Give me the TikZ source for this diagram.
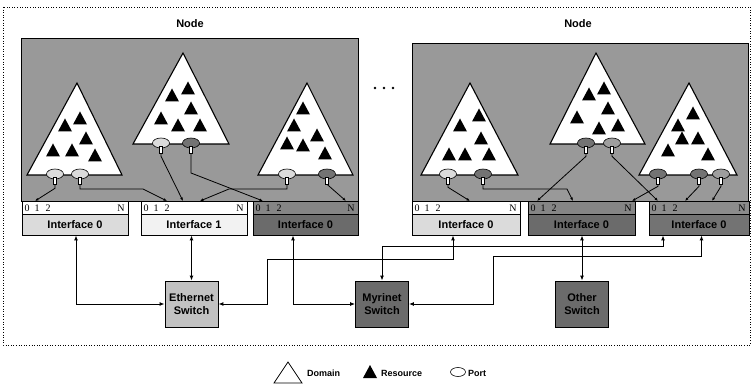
\documentclass[tikz,border=0pt]{standalone}
\usepackage{fontspec}
\setmainfont{Liberation Sans}
\newfontfamily\numfont{Liberation Serif}
\usetikzlibrary{shapes.geometric,arrows.meta}
\definecolor{nodegray}{gray}{0.60}
\definecolor{plightc}{gray}{0.86}
\definecolor{pdarkc}{gray}{0.45}
\definecolor{pmidc}{gray}{0.62}
\definecolor{ethc}{gray}{0.76}
\definecolor{swdark}{gray}{0.42}
\newcommand\rsrc[2]{\fill (#1,#2) ++(0,-6.5) -- ++(7,13) -- ++(-14,0) -- cycle;}
\newcommand\portpin[1]{\draw[line width=0.5pt,fill=white] ([xshift=-1.6pt,yshift=2pt]#1.south) rectangle ([xshift=1.6pt,yshift=-5pt]#1.south);}
\newcommand\ifacebox[6]{%
  \filldraw[line width=0.8pt,fill=#4] (#2,201) rectangle (#3,214);
  \node[num] at ({#2+5},208) {0};
  \node[num] at ({#2+15},208) {1};
  \node[num] at ({#2+26},208) {2};
  \node[num] at ({#3-7},208) {N};
  \node[draw,line width=0.8pt,fill=#5,minimum width={(#3-#2)*1pt},minimum height=21pt,inner sep=0pt,lbl] (#1) at ({(#2+#3)/2},224.5) {#6};
}
\begin{document}
\begin{tikzpicture}[x=1pt,y=-1pt,
  nodebox/.style={draw=black,line width=0.9pt,fill=nodegray},
  domtri/.style={draw=black,line width=1.1pt,fill=white,line join=miter},
  port/.style={ellipse,draw=black,line width=0.6pt,minimum width=17pt,minimum height=10pt,inner sep=0pt},
  plight/.style={port,fill=plightc},
  pdark/.style={port,fill=pdarkc},
  pmid/.style={port,fill=pmidc},
  wire/.style={line width=0.8pt,-{Latex[length=3.5pt,width=2.8pt]}},
  link/.style={line width=1pt,{Latex[length=5pt,width=4pt]}-{Latex[length=5pt,width=4pt]}},
  switch/.style={draw=black,line width=0.8pt,minimum width=53pt,minimum height=46pt,inner sep=0pt,align=center,font=\bfseries\fontsize{11}{13.5}\selectfont},
  lbl/.style={font=\bfseries\fontsize{11}{12}\selectfont},
  num/.style={font=\numfont\fontsize{10}{10}\selectfont,inner sep=0pt},
  legtext/.style={anchor=west,inner sep=0pt,font=\bfseries\fontsize{9}{9}\selectfont},
]
\useasboundingbox (0,0) rectangle (752,387);
\draw[dotted,line width=0.6pt] (3,7) rectangle (750,345);

% node titles
\node[lbl] (titleL) at (190,24) {Node};
\node[lbl] (titleR) at (578,24) {Node};

% node boxes
\draw[nodebox] (21,38) rectangle (358,201);
\draw[nodebox] (412,43) rectangle (748,201);

% ellipsis between nodes
\fill (375,88) circle[radius=1.4pt];
\fill (384,88) circle[radius=1.4pt];
\fill (393,88) circle[radius=1.4pt];

% interfaces
\ifacebox{ifA}{22}{128}{white}{black!14}{Interface 0}
\ifacebox{ifB}{141}{247}{white}{black!5}{Interface 1}
\ifacebox{ifC}{253}{358}{black!48}{black!58}{Interface 0}
\ifacebox{ifD}{412}{520}{white}{black!14}{Interface 0}
\ifacebox{ifE}{528}{635}{black!48}{black!58}{Interface 0}
\ifacebox{ifF}{649}{749}{black!45}{black!55}{Interface 0}

% domains
\draw[domtri] (77,83) -- (122,175) -- (27,175) -- cycle;
\draw[domtri] (183,53) -- (229,144) -- (133,144) -- cycle;
\draw[domtri] (307,83) -- (353,175) -- (258,175) -- cycle;
\draw[domtri] (470,83) -- (518,175) -- (421,175) -- cycle;
\draw[domtri] (596,53) -- (645,144) -- (550,144) -- cycle;
\draw[domtri] (689,83) -- (737,175) -- (639,175) -- cycle;

% resources
\rsrc{65}{125}\rsrc{80}{118}\rsrc{86}{138}\rsrc{53}{150}\rsrc{72}{150}\rsrc{95}{155}
\rsrc{172}{95}\rsrc{188}{88}\rsrc{191}{108}\rsrc{161}{118}\rsrc{178}{125}\rsrc{200}{125}
\rsrc{303}{108}\rsrc{294}{125}\rsrc{317}{135}\rsrc{287}{143}\rsrc{303}{145}\rsrc{325}{153}
\rsrc{460}{125}\rsrc{479}{115}\rsrc{481}{138}\rsrc{449}{154}\rsrc{465}{154}\rsrc{489}{154}
\rsrc{589}{94}\rsrc{604}{88}\rsrc{608}{108}\rsrc{577}{117}\rsrc{599}{128}\rsrc{618}{125}
\rsrc{693}{113}\rsrc{678}{125}\rsrc{682}{138}\rsrc{698}{138}\rsrc{668}{150}\rsrc{708}{154}

% ports
\node[plight] (pA1) at (55,174) {};
\node[plight] (pA2) at (80,174) {};
\node[plight] (pB1) at (161,143) {};
\node[pdark]  (pB2) at (191,143) {};
\node[plight] (pC1) at (287,174) {};
\node[pdark]  (pC2) at (327,174) {};
\node[plight] (pD1) at (448,174) {};
\node[pdark]  (pD2) at (483,174) {};
\node[pdark]  (pE1) at (586,143) {};
\node[pmid]   (pE2) at (612,143) {};
\node[pdark]  (pF1) at (658,174) {};
\node[pdark]  (pF2) at (699,174) {};
\node[pmid]   (pF3) at (721,174) {};

% interface port targets
\coordinate (t1) at (35,201);
\coordinate (t2) at (167,201);
\coordinate (t3) at (183,201);
\coordinate (t4) at (263,201);
\coordinate (t5) at (200,201);
\coordinate (t6) at (346,201);
\coordinate (t7) at (470,201);
\coordinate (t8) at (573,201);
\coordinate (t9) at (537,201);
\coordinate (t10) at (658,201);
\coordinate (t11) at (632,201);
\coordinate (t12) at (685,201);
\coordinate (t13) at (712,201);

% port wires
\draw[wire] ([yshift=-5pt]pA1.south) -- ++(0,4) -- (t1);
\draw[wire] ([yshift=-5pt]pA2.south) |- (143,189) -- (t2);
\draw[wire] ([yshift=-5pt]pB1.south) -- ++(0,3) -- (t3);
\draw[wire] ([yshift=-5pt]pB2.south) -- (191,173) -- (t4);
\draw[wire] ([yshift=-5pt]pC1.south) |- (229,189) -- (t5);
\draw[wire] ([yshift=-5pt]pC2.south) -- (t6);
\draw[wire] ([yshift=-5pt]pD1.south) -- ++(0,3) -- (t7);
\draw[wire] ([yshift=-5pt]pD2.south) |- (567,189) -- (t8);
\draw[wire] ([yshift=-5pt]pE1.south) -- ++(0,3) -- (t9);
\draw[wire] ([yshift=-5pt]pE2.south) -- ++(0,3) -- (t10);
\draw[wire] ([yshift=-5pt]pF1.south) -- ++(0,2) -- (t11);
\draw[wire] ([yshift=-5pt]pF2.south) -- ++(0,2) -- (t12);
\draw[wire] ([yshift=-5pt]pF3.south) -- ++(0,2) -- (t13);
\foreach \p in {pA1,pA2,pB1,pB2,pC1,pC2,pD1,pD2,pE1,pE2,pF1,pF2,pF3}{\portpin{\p}}

% switches
\node[switch,fill=ethc] (eth) at (191.5,304) {Ethernet\\Switch};
\node[switch,fill=swdark] (myr) at (382,304) {Myrinet\\Switch};
\node[switch,fill=swdark] (oth) at (582,304) {Other\\Switch};

% links
\coordinate (w1) at (267,260);
\coordinate (w2) at (663,247);
\coordinate (w3) at (493,257);
\draw[link] ([xshift=1pt]ifA.south) |- (eth.west);
\draw[link] (ifB.south -| eth.north) -- (eth.north);
\draw[link] ([xshift=-12.5pt]ifC.south) |- (myr.west);
\draw[link] ([xshift=-13pt]ifD.south) |- (w1) |- (eth.east);
\draw[link] (myr.north) |- (w2) -- (w2 |- ifF.south);
\draw[link] ([xshift=2.5pt]ifF.south) |- (w3) |- (myr.east);
\draw[link] (ifE.south -| oth.north) -- (oth.north);

% legend
\draw[line width=0.8pt,line join=miter] (288,362) -- (302,383) -- (274,383) -- cycle;
\node[legtext] (lgD) at (307,373) {Domain};
\fill (370,365) -- (377,378) -- (363,378) -- cycle;
\node[legtext] (lgR) at (381,373) {Resource};
\node[port,minimum width=15pt,minimum height=9pt,fill=white] (lgP) at (458,372) {};
\node[legtext] (lgPt) at (468,373) {Port};
\end{tikzpicture}
\end{document}
